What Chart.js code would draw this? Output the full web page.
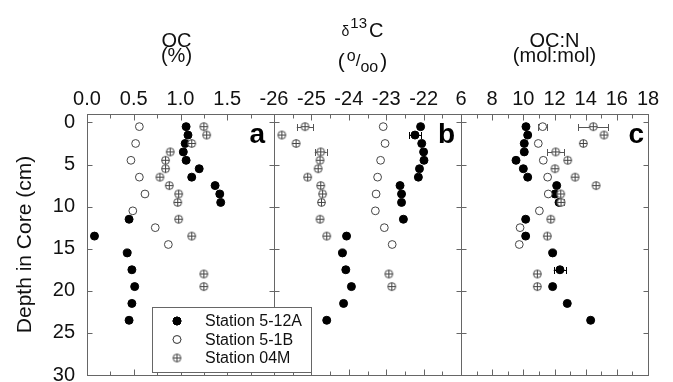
<!DOCTYPE html>
<html><head><meta charset="utf-8">
<script src="https://cdn.jsdelivr.net/npm/chart.js@4.4.0/dist/chart.umd.min.js"></script>
<style>
html,body{margin:0;padding:0;background:#fff;}
#wrap{position:relative;width:673px;height:382px;overflow:hidden;background:#fff;}
#wrap canvas{position:absolute;left:0;top:0;}
</style></head><body>
<div id="wrap">
<canvas id="ca" width="673" height="382"></canvas>
<canvas id="cb" width="673" height="382"></canvas>
<canvas id="cc" width="673" height="382"></canvas>
</div>
<script>
// ---------------- DATA ----------------
const seriesNames = ['Station 5-12A', 'Station 5-1B', 'Station 04M'];

// Station 5-12A (filled circles)
const depth_5_12A = [0.5,1.5,2.5,3.5,4.5,5.5,6.5,7.5,8.5,9.5,11.5,13.5,15.5,17.5,19.5,21.5,23.5];
const oc_5_12A    = [1.06,1.08,1.05,1.03,1.06,1.20,1.12,1.37,1.42,1.43,0.45,0.08,0.43,0.48,0.51,0.48,0.45];
const d13c_5_12A  = [-22.08,-22.23,-22.05,-22.00,-21.99,-22.11,-22.14,-22.63,-22.59,-22.59,-22.54,-24.06,-24.17,-24.08,-23.93,-24.14,-24.59];
const d13cErr_5_12A = [0,0.16,0,0,0,0,0,0,0,0,0,0,0,0,0,0,0];
const cn_5_12A    = [10.17,10.28,10.06,10.06,9.53,10.00,10.28,12.14,12.03,12.29,10.15,10.15,11.88,12.35,11.88,12.82,14.32];
const cnErr_5_12A = [0,0,0,0,0,0,0,0,0,0,0,0,0,0.40,0,0,0];

// Station 5-1B (open circles)
const depth_5_1B = [0.5,2.5,4.5,6.5,8.5,10.5,12.5,14.5];
const oc_5_1B    = [0.56,0.52,0.47,0.56,0.62,0.49,0.73,0.87];
const d13c_5_1B  = [-23.08,-23.03,-23.15,-23.23,-23.27,-23.29,-23.05,-22.84];
const cn_5_1B    = [11.24,10.96,11.28,11.56,11.60,11.03,9.79,9.74];
const cnErr_5_1B = [0.28,0,0,0,0,0,0,0];

// Station 04M (crossed circles)
const depth_04M = [0.5,1.5,2.5,3.5,4.5,5.5,6.5,7.5,8.5,9.5,11.5,13.5,18,19.5];
const oc_04M    = [1.25,1.28,1.12,0.89,0.84,0.84,0.78,0.88,0.98,0.97,0.98,1.12,1.25,1.25];
const d13c_04M  = [-25.17,-25.79,-25.41,-24.75,-24.77,-24.82,-25.10,-24.75,-24.70,-24.73,-24.77,-24.59,-22.93,-22.85];
const d13cErr_04M = [0.22,0,0,0.16,0,0,0,0,0,0,0,0,0,0];
const cn_04M    = [14.49,15.18,13.85,12.08,12.85,12.03,13.32,14.67,12.40,12.42,11.76,11.54,10.90,10.90];
const cnErr_04M = [0.96,0,0,0.55,0,0,0,0,0,0.20,0,0,0,0];

// ticks
const depthTicks = [0,5,10,15,20,25,30];
const ocTicks  = [0.0,0.5,1.0,1.5];
const ocMinor  = [0.25,0.75,1.25,1.75];
const d13cTicks = [-26,-25,-24,-23,-22];
const d13cMinor = [-25.5,-24.5,-23.5,-22.5,-21.5];
const cnTicks  = [6,8,10,12,14,16,18];
const cnMinor  = [7,9,11,13,15,17];

// ---------------- STYLE ----------------
const FONT = "'Liberation Sans', Arial, Helvetica, sans-serif";
const FRAME = '#666';
const TXT = '#111';

function makeCrossImg() {
  const c = document.createElement('canvas'); c.width = 11; c.height = 11;
  const g = c.getContext('2d');
  g.fillStyle = '#fff'; g.strokeStyle = '#444'; g.lineWidth = 1;
  g.beginPath(); g.arc(5.5, 5.5, 3.9, 0, Math.PI * 2); g.fill(); g.stroke();
  g.beginPath(); g.moveTo(1.6, 5.5); g.lineTo(9.4, 5.5); g.moveTo(5.5, 1.6); g.lineTo(5.5, 9.4); g.stroke();
  return c;
}
const crossImg = makeCrossImg();

const styles = [
  { pointStyle: 'circle', pointRadius: 4, backgroundColor: '#000', borderColor: '#000', borderWidth: 1, order: 3 },
  { pointStyle: 'circle', pointRadius: 3.9, backgroundColor: '#fff', borderColor: '#444', borderWidth: 1, order: 2 },
  { pointStyle: crossImg, pointRadius: 4, backgroundColor: '#fff', borderColor: '#555', borderWidth: 1, order: 1 }
];

function mkDs(i, xs, ys, errs) {
  return Object.assign({
    label: seriesNames[i],
    data: xs.map((v, k) => ({ x: v, y: ys[k] })),
    errX: errs || xs.map(() => 0)
  }, styles[i]);
}

function panelPlugin(cfg) {
  return {
    id: 'panel_' + cfg.letter,
    beforeDatasetsDraw(chart) {
      const { ctx, chartArea: a, scales: { x, y } } = chart;
      ctx.save();
      ctx.strokeStyle = FRAME; ctx.lineWidth = 1;
      const L = Math.round(a.left) + 0.5, R = Math.round(a.right) + 0.5;
      const T = Math.round(a.top) + 0.5, B = Math.round(a.bottom) + 0.5;
      ctx.strokeRect(L, T, R - L, B - T);
      ctx.beginPath();
      const xt = (vals, len) => vals.forEach(v => {
        const px = Math.round(x.getPixelForValue(v)) + 0.5;
        ctx.moveTo(px, T); ctx.lineTo(px, T + len);
        ctx.moveTo(px, B); ctx.lineTo(px, B - len);
      });
      xt(cfg.major, 6); xt(cfg.minor, 4);
      depthTicks.forEach(v => {
        const py = Math.round(y.getPixelForValue(v)) + 0.5;
        ctx.moveTo(L, py); ctx.lineTo(L + 5, py);
        ctx.moveTo(R, py); ctx.lineTo(R - 5, py);
      });
      ctx.stroke();
      // error bars
      chart.data.datasets.forEach(ds => {
        ds.data.forEach((p, k) => {
          const e = ds.errX[k];
          if (!e) return;
          const x1 = x.getPixelForValue(p.x - e), x2 = x.getPixelForValue(p.x + e);
          const py = Math.round(y.getPixelForValue(p.y)) + 0.5;
          ctx.strokeStyle = ds.borderColor === '#000' ? '#000' : '#555';
          ctx.beginPath();
          ctx.moveTo(x1, py); ctx.lineTo(x2, py);
          ctx.moveTo(Math.round(x1) + 0.5, py - 3.5); ctx.lineTo(Math.round(x1) + 0.5, py + 3.5);
          ctx.moveTo(Math.round(x2) + 0.5, py - 3.5); ctx.lineTo(Math.round(x2) + 0.5, py + 3.5);
          ctx.stroke();
        });
      });
      ctx.restore();
    },
    afterDraw(chart) {
      const { ctx, chartArea: a } = chart;
      ctx.save();
      ctx.fillStyle = '#000';
      ctx.font = 'bold 28px ' + FONT;
      ctx.textAlign = 'right'; ctx.textBaseline = 'alphabetic';
      ctx.fillText(cfg.letter, a.right - cfg.letterDx, a.top + 29);
      const cx = (a.left + a.right) / 2 + cfg.titleDx;
      cfg.drawTitle(ctx, cx);
      if (cfg.legend) drawLegend(ctx, chart);
      ctx.restore();
    }
  };
}

function drawRuns(ctx, cx, runs) {
  let w = 0;
  runs.forEach(r => { ctx.font = r.size + 'px ' + FONT; r.w = ctx.measureText(r.t).width; w += r.w + (r.gap || 0); });
  let xx = cx - w / 2;
  ctx.textAlign = 'left'; ctx.textBaseline = 'alphabetic'; ctx.fillStyle = TXT;
  runs.forEach(r => { ctx.font = r.size + 'px ' + FONT; ctx.fillText(r.t, xx, r.y); xx += r.w + (r.gap || 0); });
}

function drawLegend(ctx, chart) {
  const bx = 152, by = 307, bw = 159, bh = 65;
  ctx.fillStyle = '#fff';
  ctx.fillRect(bx, by, bw, bh);
  ctx.strokeStyle = FRAME; ctx.lineWidth = 1;
  ctx.strokeRect(bx + 0.5, by + 0.5, bw, bh);
  const rows = [321, 339.5, 358];
  chart.data.datasets.forEach((ds, i) => {
    const mx = 177, my = rows[i];
    ctx.fillStyle = ds.backgroundColor; ctx.strokeStyle = ds.borderColor; ctx.lineWidth = 1;
    Chart.helpers.drawPoint(ctx, {
      pointStyle: ds.pointStyle, radius: ds.pointRadius, borderWidth: 1, rotation: 0
    }, mx, my);
    if (typeof ds.pointStyle === 'string') {
      ctx.beginPath(); ctx.arc(mx, my, ds.pointRadius, 0, Math.PI * 2); ctx.fill(); ctx.stroke();
    }
    ctx.fillStyle = TXT;
    ctx.font = '16px ' + FONT;
    ctx.textAlign = 'left'; ctx.textBaseline = 'middle';
    ctx.fillText(ds.label, 205, my + 1);
  });
}

function zeroPad(s) { s.paddingTop = 0; s.paddingBottom = 0; s.paddingLeft = 0; s.paddingRight = 0; }

function makeChart(id, cfg) {
  const showY = cfg.showY;
  return new Chart(document.getElementById(id), {
    type: 'scatter',
    data: { datasets: cfg.datasets },
    plugins: [panelPlugin(cfg)],
    options: {
      responsive: false, animation: false, devicePixelRatio: 1, events: [],
      layout: { padding: { left: cfg.padL, right: cfg.padR, top: 0, bottom: 7 } },
      plugins: { legend: { display: false }, tooltip: { enabled: false } },
      scales: {
        x: {
          type: 'linear', position: 'top', min: cfg.min, max: cfg.max,
          grid: { display: false, drawTicks: false },
          border: { display: false },
          afterBuildTicks: s => { s.ticks = cfg.major.map(v => ({ value: v })); },
          afterFit: s => { s.height = 114; zeroPad(s); },
          ticks: {
            autoSkip: false, maxRotation: 0, padding: 3, color: TXT,
            font: { family: FONT, size: 20 },
            callback: v => cfg.fmt(v)
          }
        },
        y: {
          type: 'linear', reverse: true, min: -1, max: 30, display: showY,
          grid: { display: false, drawTicks: false },
          border: { display: false },
          afterBuildTicks: s => { s.ticks = depthTicks.map(v => ({ value: v })); },
          afterFit: s => { if (showY) s.width = 87; zeroPad(s); },
          ticks: { padding: 12, color: TXT, font: { family: FONT, size: 20 }, callback: v => String(v) },
          title: {
            display: showY, text: 'Depth in Core (cm)', color: TXT,
            font: { family: FONT, size: 21 }, padding: { top: 13, bottom: 0 }
          }
        }
      }
    }
  });
}

makeChart('ca', {
  letter: 'a', letterDx: 9, titleDx: -4, showY: true, padL: 0, padR: 673 - 274,
  min: 0, max: 2, major: ocTicks.concat([2.0]), minor: ocMinor,
  fmt: v => (v >= 2 ? '' : v.toFixed(1)),
  datasets: [mkDs(0, oc_5_12A, depth_5_12A), mkDs(1, oc_5_1B, depth_5_1B), mkDs(2, oc_04M, depth_04M)],
  drawTitle: (ctx, cx) => {
    drawRuns(ctx, cx, [{ t: 'OC', size: 20, y: 47 }]);
    drawRuns(ctx, cx, [{ t: '(%)', size: 20, y: 62 }]);
  }
});

makeChart('cb', {
  letter: 'b', letterDx: 6, titleDx: -5, showY: false, padL: 274, padR: 673 - 461, legend: true,
  min: -26, max: -21, major: d13cTicks.concat([-21]), minor: d13cMinor,
  fmt: v => (v >= -21 ? '' : String(v)),
  datasets: [mkDs(0, d13c_5_12A, depth_5_12A, d13cErr_5_12A), mkDs(1, d13c_5_1B, depth_5_1B), mkDs(2, d13c_04M, depth_04M, d13cErr_04M)],
  drawTitle: (ctx, cx) => {
    drawRuns(ctx, cx, [
      { t: 'δ', size: 14, y: 36, gap: 1 },
      { t: '13', size: 15, y: 28, gap: 2 },
      { t: 'C', size: 20, y: 37 }
    ]);
    drawRuns(ctx, cx, [
      { t: '(', size: 21, y: 68, gap: 2 },
      { t: 'o', size: 16, y: 61 },
      { t: '/', size: 17, y: 66 },
      { t: 'oo', size: 16, y: 72, gap: 2 },
      { t: ')', size: 21, y: 68 }
    ]);
  }
});

makeChart('cc', {
  letter: 'c', letterDx: 4, titleDx: 0, showY: false, padL: 461, padR: 673 - 648,
  min: 6, max: 18, major: cnTicks, minor: cnMinor,
  fmt: v => String(v),
  datasets: [mkDs(0, cn_5_12A, depth_5_12A, cnErr_5_12A), mkDs(1, cn_5_1B, depth_5_1B, cnErr_5_1B), mkDs(2, cn_04M, depth_04M, cnErr_04M)],
  drawTitle: (ctx, cx) => {
    drawRuns(ctx, cx, [{ t: 'OC:N', size: 20, y: 47 }]);
    drawRuns(ctx, cx, [{ t: '(mol:mol)', size: 20, y: 62 }]);
  }
});
</script>
</body></html>
